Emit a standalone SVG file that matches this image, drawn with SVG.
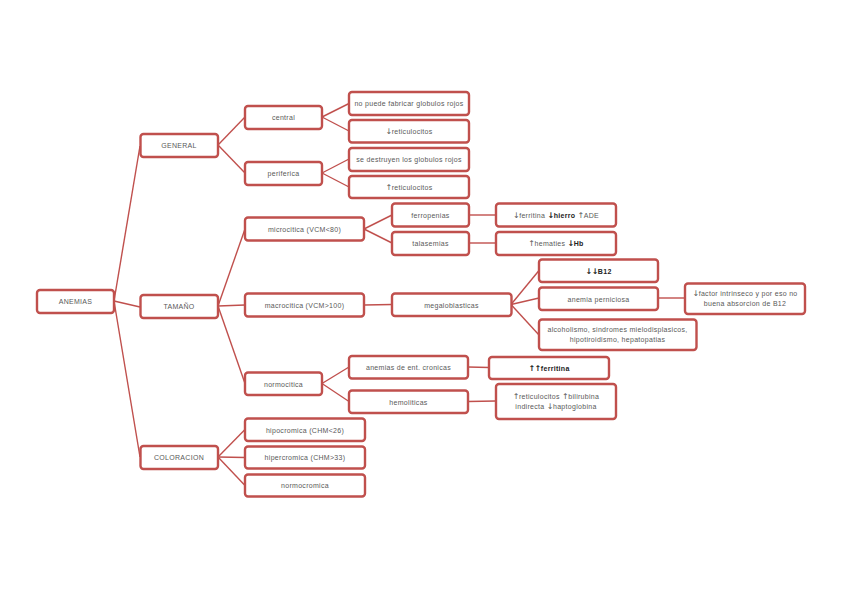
<svg xmlns="http://www.w3.org/2000/svg" width="848" height="599" viewBox="0 0 848 599">
<style>
.b{fill:#fff;stroke:#C0504D;stroke-width:2.4}
.t{font-family:"Liberation Sans","DejaVu Sans",sans-serif;font-size:7px;fill:#595959;text-anchor:middle;letter-spacing:0.3px}
.bd{font-weight:bold;fill:#222}
.a{font-family:"DejaVu Sans",sans-serif;font-size:8px;letter-spacing:-0.5px}
#connectors line{stroke:#C0504D;stroke-width:1.4;fill:none}
</style>
<rect width="848" height="599" fill="#fff"/>
<g id="connectors">
<line x1="114" y1="301" x2="140" y2="146"/>
<line x1="114" y1="301" x2="140" y2="307"/>
<line x1="114" y1="301" x2="140" y2="457"/>
<line x1="218" y1="145" x2="245" y2="117"/>
<line x1="218" y1="145" x2="245" y2="173"/>
<line x1="322" y1="117" x2="349" y2="103.5"/>
<line x1="322" y1="117" x2="349" y2="131"/>
<line x1="322" y1="173" x2="349" y2="159"/>
<line x1="322" y1="173" x2="349" y2="187"/>
<line x1="218" y1="306" x2="245" y2="229"/>
<line x1="218" y1="306" x2="245" y2="305"/>
<line x1="218" y1="306" x2="245" y2="383.5"/>
<line x1="364" y1="229" x2="392" y2="215"/>
<line x1="364" y1="229" x2="392" y2="243"/>
<line x1="469" y1="215" x2="496" y2="215"/>
<line x1="469" y1="243" x2="496" y2="243"/>
<line x1="364" y1="305" x2="392" y2="304.5"/>
<line x1="511" y1="304.5" x2="539" y2="270.5"/>
<line x1="511" y1="304.5" x2="539" y2="298"/>
<line x1="511" y1="304.5" x2="539" y2="335"/>
<line x1="658" y1="298" x2="685" y2="298"/>
<line x1="322" y1="383.5" x2="349" y2="367"/>
<line x1="322" y1="383.5" x2="349" y2="401.5"/>
<line x1="468" y1="367" x2="489" y2="367.5"/>
<line x1="468" y1="401.5" x2="496" y2="401"/>
<line x1="218" y1="457" x2="245" y2="429.5"/>
<line x1="218" y1="457" x2="245" y2="457.5"/>
<line x1="218" y1="457" x2="245" y2="485.5"/>
</g>
<g id="anemias"><rect class="b" x="37" y="290" width="77" height="23" rx="3"/><text class="t" x="75.5" y="304">ANEMIAS</text></g>
<g id="general"><rect class="b" x="140.5" y="134" width="77.5" height="23" rx="3"/><text class="t" x="179" y="148">GENERAL</text></g>
<g id="tamano"><rect class="b" x="140.5" y="295" width="77.5" height="23" rx="3"/><text class="t" x="179" y="309">TAMAÑO</text></g>
<g id="coloracion"><rect class="b" x="140.5" y="446" width="77.5" height="23" rx="3"/><text class="t" x="179" y="460">COLORACION</text></g>
<g id="central"><rect class="b" x="245" y="106" width="77" height="23" rx="3"/><text class="t" x="283.5" y="120">central</text></g>
<g id="periferica"><rect class="b" x="245" y="162" width="77" height="23" rx="3"/><text class="t" x="283.5" y="176">periferica</text></g>
<g id="nopuede"><rect class="b" x="349" y="92" width="120" height="23" rx="3"/><text class="t" x="409" y="106">no puede fabricar globulos rojos</text></g>
<g id="retic-down"><rect class="b" x="349" y="120" width="120" height="22.5" rx="3"/><text class="t" x="409" y="134"><tspan class="a">↓</tspan>reticulocitos</text></g>
<g id="sedestruyen"><rect class="b" x="349" y="148" width="120" height="23" rx="3"/><text class="t" x="409" y="162">se destruyen los globulos rojos</text></g>
<g id="retic-up"><rect class="b" x="349" y="176" width="120" height="22" rx="3"/><text class="t" x="409" y="189.5"><tspan class="a">↑</tspan>reticulocitos</text></g>
<g id="microcitica"><rect class="b" x="245" y="217.5" width="119" height="23" rx="3"/><text class="t" x="304.5" y="231.5">microcitica (VCM&lt;80)</text></g>
<g id="ferropenias"><rect class="b" x="392" y="203.5" width="77" height="23" rx="3"/><text class="t" x="430.5" y="217.5">ferropenias</text></g>
<g id="talasemias"><rect class="b" x="392" y="232" width="77" height="23" rx="3"/><text class="t" x="430.5" y="246">talasemias</text></g>
<g id="ferritina"><rect class="b" x="496" y="203.5" width="120" height="23" rx="3"/><text class="t" x="556" y="217.5"><tspan class="a">↓</tspan>ferritina <tspan class="bd"><tspan class="a">↓</tspan>hierro</tspan> <tspan class="a">↑</tspan>ADE</text></g>
<g id="hematies"><rect class="b" x="496" y="232" width="120" height="23" rx="3"/><text class="t" x="556" y="246"><tspan class="a">↑</tspan>hematies <tspan class="bd"><tspan class="a">↓</tspan>Hb</tspan></text></g>
<g id="macrocitica"><rect class="b" x="245" y="293.5" width="119" height="23" rx="3"/><text class="t" x="304.5" y="307.5">macrocitica (VCM&gt;100)</text></g>
<g id="megaloblasticas"><rect class="b" x="392" y="293.5" width="119.5" height="22.5" rx="3"/><text class="t" x="451.5" y="307.5">megaloblasticas</text></g>
<g id="b12"><rect class="b" x="539" y="259.5" width="119" height="22.5" rx="3"/><text class="t bd" x="598.5" y="273.5"><tspan class="a">↓↓</tspan>B12</text></g>
<g id="perniciosa"><rect class="b" x="539" y="287.5" width="119" height="22.5" rx="3"/><text class="t" x="598.5" y="301.5">anemia perniciosa</text></g>
<g id="factor"><rect class="b" x="685" y="283.5" width="120" height="30.5" rx="3"/><text class="t" x="745" y="296"><tspan class="a">↓</tspan>factor intrinseco y por eso no</text><text class="t" x="745" y="306">buena absorcion de B12</text></g>
<g id="alcoholismo"><rect class="b" x="539" y="319.5" width="157.5" height="30.5" rx="3"/><text class="t" x="617.5" y="332">alcoholismo, sindromes mielodisplasicos,</text><text class="t" x="617.5" y="342">hipotiroidismo, hepatopatias</text></g>
<g id="normocitica"><rect class="b" x="245" y="372.5" width="77" height="22.5" rx="3"/><text class="t" x="283.5" y="386.5">normocitica</text></g>
<g id="cronicas"><rect class="b" x="349" y="356" width="119" height="22.5" rx="3"/><text class="t" x="408.5" y="370">anemias de ent. cronicas</text></g>
<g id="hemoliticas"><rect class="b" x="349" y="390.5" width="119" height="22.5" rx="3"/><text class="t" x="408.5" y="404.5">hemoliticas</text></g>
<g id="ferritina-up"><rect class="b" x="489" y="357" width="120" height="22" rx="3"/><text class="t bd" x="549" y="370.5"><tspan class="a">↑↑</tspan>ferritina</text></g>
<g id="bilirrubina"><rect class="b" x="496" y="384" width="120" height="35" rx="3"/><text class="t" x="556" y="398.5"><tspan class="a">↑</tspan>reticulocitos <tspan class="a">↑</tspan>bilirubina</text><text class="t" x="556" y="408.5">indirecta <tspan class="a">↓</tspan>haptoglobina</text></g>
<g id="hipocromica"><rect class="b" x="245" y="418.5" width="120" height="22.5" rx="3"/><text class="t" x="305" y="432.5">hipocromica (CHM&lt;26)</text></g>
<g id="hipercromica"><rect class="b" x="245" y="446.5" width="120" height="22" rx="3"/><text class="t" x="305" y="460">hipercromica (CHM&gt;33)</text></g>
<g id="normocromica"><rect class="b" x="245" y="474.5" width="120" height="22" rx="3"/><text class="t" x="305" y="488">normocromica</text></g>
</svg>
